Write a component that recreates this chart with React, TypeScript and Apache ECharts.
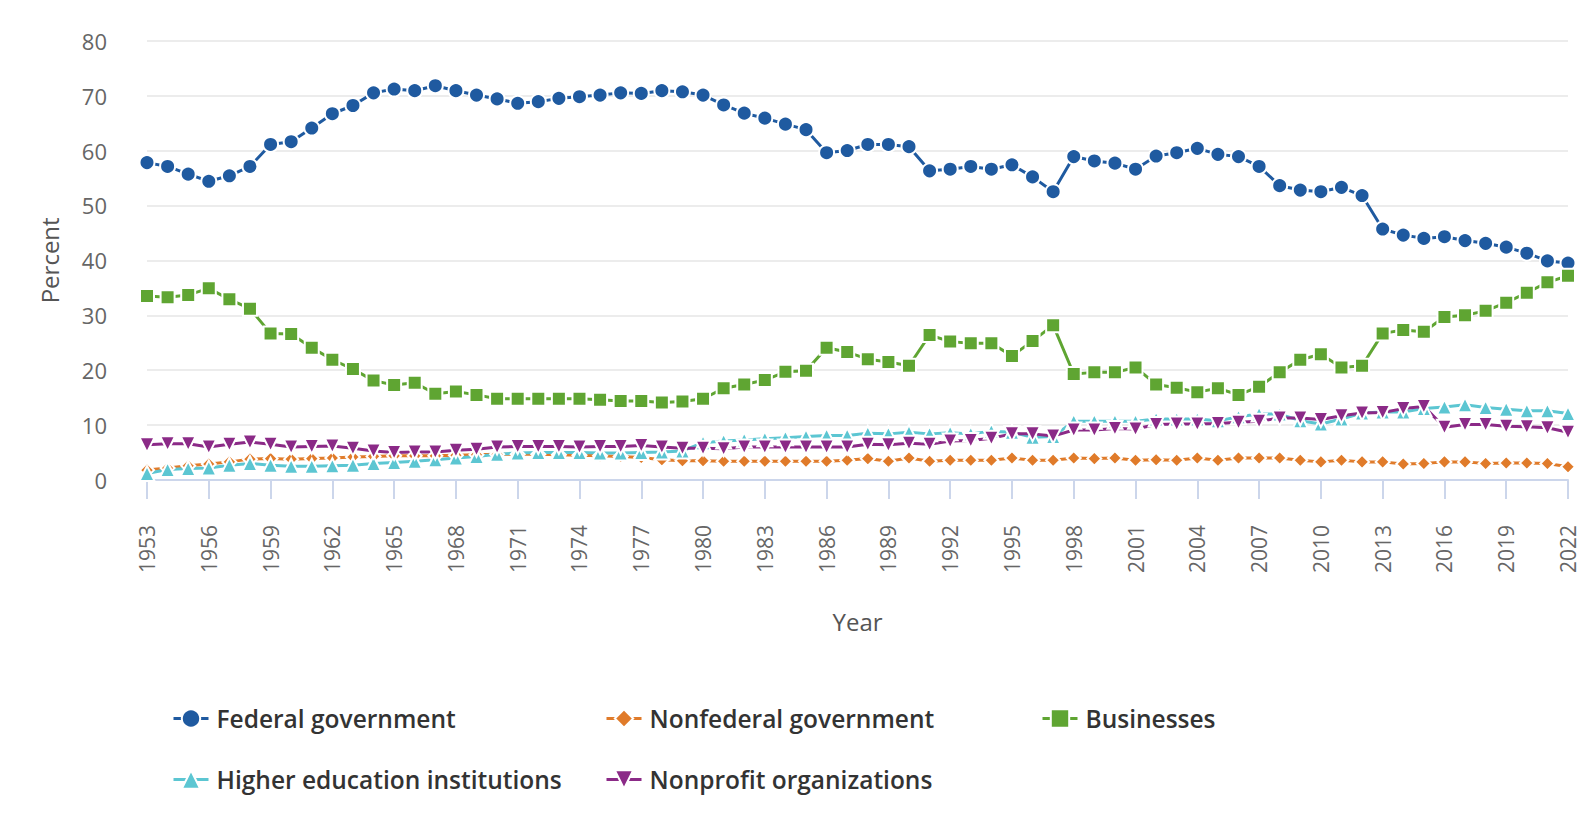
import React, { useEffect, useRef } from "react";
import * as echarts from "echarts";

const years: string[] = [];
for (let y = 1953; y <= 2022; y++) years.push(String(y));

const federal = [
  57.8, 57.1, 55.7, 54.4, 55.4, 57.1, 61.1, 61.6, 64.1, 66.7, 68.2, 70.5, 71.2, 70.9, 71.8, 70.9, 70.1,
  69.4, 68.6, 68.9, 69.5, 69.8, 70.1, 70.5, 70.4, 70.9, 70.7, 70.1, 68.3, 66.8, 65.9, 64.8, 63.8, 59.6,
  60.0, 61.1, 61.1, 60.7, 56.3, 56.6, 57.1, 56.6, 57.4, 55.2, 52.5, 58.9, 58.1, 57.7, 56.6, 59.0, 59.6, 60.4,
  59.3, 58.9, 57.1, 53.6, 52.8, 52.5, 53.3, 51.8, 45.7, 44.6, 44.0, 44.3, 43.6, 43.1, 42.4, 41.3, 39.9, 39.5,
];

const nonfederal = [
  1.8, 2.2, 2.6, 2.9, 3.3, 3.8, 3.9, 3.8, 3.9, 4.0, 4.2, 4.3, 4.4, 4.4, 4.4, 4.5, 4.6,
  4.7, 4.7, 4.7, 4.6, 4.5, 4.4, 4.3, 4.1, 3.7, 3.5, 3.5, 3.4, 3.4, 3.4, 3.4, 3.4, 3.4,
  3.6, 3.9, 3.4, 4.0, 3.4, 3.6, 3.6, 3.6, 4.0, 3.6, 3.6, 4.0, 3.9, 4.0, 3.6, 3.7, 3.6, 4.0,
  3.6, 4.0, 4.0, 4.0, 3.6, 3.3, 3.6, 3.3, 3.3, 2.9, 3.0, 3.3, 3.3, 3.0, 3.1, 3.1, 3.0, 2.4,
];

const businesses = [
  33.5, 33.3, 33.7, 34.9, 32.9, 31.2, 26.7, 26.6, 24.1, 21.9, 20.2, 18.1, 17.3, 17.7, 15.7, 16.1, 15.5,
  14.8, 14.8, 14.8, 14.8, 14.8, 14.6, 14.4, 14.4, 14.1, 14.3, 14.8, 16.7, 17.4, 18.2, 19.7, 19.9, 24.1,
  23.3, 22.0, 21.5, 20.8, 26.4, 25.2, 24.9, 24.9, 22.6, 25.3, 28.2, 19.3, 19.6, 19.6, 20.5, 17.4, 16.8, 16.0,
  16.7, 15.5, 17.0, 19.6, 21.9, 22.9, 20.5, 20.8, 26.7, 27.3, 27.0, 29.7, 30.0, 30.8, 32.3, 34.1, 36.0, 37.2,
];

const higherEd = [
  1.2, 1.9, 2.1, 2.2, 2.7, 3.0, 2.7, 2.5, 2.5, 2.6, 2.7, 3.0, 3.2, 3.4, 3.7, 4.0, 4.3,
  4.7, 4.9, 5.0, 5.0, 5.0, 4.9, 4.9, 5.0, 5.1, 5.3, 6.8, 7.1, 7.3, 7.5, 7.7, 7.9, 8.1,
  8.1, 8.5, 8.4, 8.7, 8.4, 8.6, 8.4, 8.9, 8.7, 7.8, 7.9, 10.7, 10.7, 10.7, 10.7, 11.1, 11.1, 11.1,
  10.8, 11.5, 12.0, 12.0, 10.8, 10.2, 11.1, 12.2, 12.4, 12.4, 13.0, 13.3, 13.7, 13.2, 12.9, 12.6, 12.6, 12.1,
];

const nonprofit = [
  6.4, 6.6, 6.6, 6.0, 6.5, 6.9, 6.5, 6.0, 6.1, 6.2, 5.8, 5.3, 5.0, 5.1, 5.1, 5.4, 5.6,
  6.0, 6.1, 6.1, 6.1, 6.0, 6.1, 6.1, 6.3, 6.0, 5.8, 5.8, 5.7, 6.0, 6.0, 6.0, 6.0, 6.0,
  6.0, 6.5, 6.4, 6.7, 6.5, 7.1, 7.2, 7.6, 8.4, 8.4, 8.0, 9.1, 9.1, 9.4, 9.3, 10.1, 10.2, 10.2,
  10.3, 10.5, 10.7, 11.3, 11.3, 11.0, 11.7, 12.2, 12.3, 13.0, 13.4, 9.6, 10.1, 10.1, 9.8, 9.7, 9.5, 8.7,
];

const seriesNames = [
  "Federal government",
  "Nonfederal government",
  "Businesses",
  "Higher education institutions",
  "Nonprofit organizations",
];

const FONT = "'Open Sans', 'Noto Sans', sans-serif";

export default function App() {
  const ref = useRef<HTMLDivElement>(null);

  useEffect(() => {
    if (!ref.current) return;
    const chart = echarts.init(ref.current, null, { renderer: "svg" });

    const mk = (
      name: string,
      data: number[],
      color: string,
      symbol: string,
      size: number,
      rotate = 0
    ) => ({
      name,
      type: "line",
      data,
      symbol,
      symbolSize: size,
      symbolRotate: rotate,
      showAllSymbol: true,
      lineStyle: { color, width: 3 },
      itemStyle: { color, borderColor: "#ffffff", borderWidth: 2 },
      emphasis: { disabled: true },
    });

    const legendPos = [
      { left: 172, top: 706 },
      { left: 605, top: 706 },
      { left: 1041, top: 706 },
      { left: 172, top: 767 },
      { left: 605, top: 767 },
    ];

    chart.setOption({
      animation: false,
      backgroundColor: "#ffffff",
      grid: {
        left: 147,
        right: 17,
        top: 40.7,
        bottom: 348,
        containLabel: false,
        outerBoundsMode: "none",
      },
      legend: seriesNames.map((n, i) => ({
        data: [n],
        left: legendPos[i].left,
        top: legendPos[i].top,
        padding: 0,
        itemWidth: 35,
        itemHeight: 23,
        itemGap: 0,
        selectedMode: false,
        lineStyle: { width: 3 },
        textStyle: {
          fontFamily: FONT,
          fontSize: 24.5,
          fontWeight: 600,
          color: "#333333",
          padding: [0, 0, 0, 3],
        },
      })),
      xAxis: {
        type: "category",
        data: years,
        boundaryGap: false,
        name: "Year",
        nameLocation: "middle",
        nameGap: 129,
        nameTextStyle: { fontFamily: FONT, fontSize: 24, color: "#555555" },
        axisLine: { lineStyle: { color: "#ccd6eb", width: 2 } },
        axisTick: { show: true, interval: 2, length: 19, lineStyle: { color: "#ccd6eb", width: 2 } },
        axisLabel: {
          interval: 2,
          rotate: 90,
          margin: 45,
          fontFamily: FONT,
          fontSize: 21,
          color: "#666666",
        },
        splitLine: { show: false },
      },
      yAxis: {
        type: "value",
        min: 0,
        max: 80,
        interval: 10,
        name: "Percent",
        nameLocation: "middle",
        nameGap: 86,
        nameRotate: 90,
        nameTextStyle: { fontFamily: FONT, fontSize: 24, color: "#555555" },
        axisLine: { show: false },
        axisTick: { show: false },
        axisLabel: {
          margin: 40,
          fontFamily: FONT,
          fontSize: 22,
          color: "#666666",
        },
        splitLine: { lineStyle: { color: "#e6e6e6", width: 1.5 } },
      },
      series: [
        mk(seriesNames[0], federal, "#1f5aa0", "circle", 15),
        mk(seriesNames[1], nonfederal, "#e07b2a", "diamond", 14),
        mk(seriesNames[2], businesses, "#5fa532", "rect", 14),
        mk(seriesNames[3], higherEd, "#5cc6d2", "triangle", 15),
        mk(seriesNames[4], nonprofit, "#8b2a87", "triangle", 15, 180),
      ],
    });

    return () => chart.dispose();
  }, []);

  return (
    <div
      ref={ref}
      style={{ position: "fixed", left: 0, top: 0, width: 1585, height: 828 }}
    />
  );
}
